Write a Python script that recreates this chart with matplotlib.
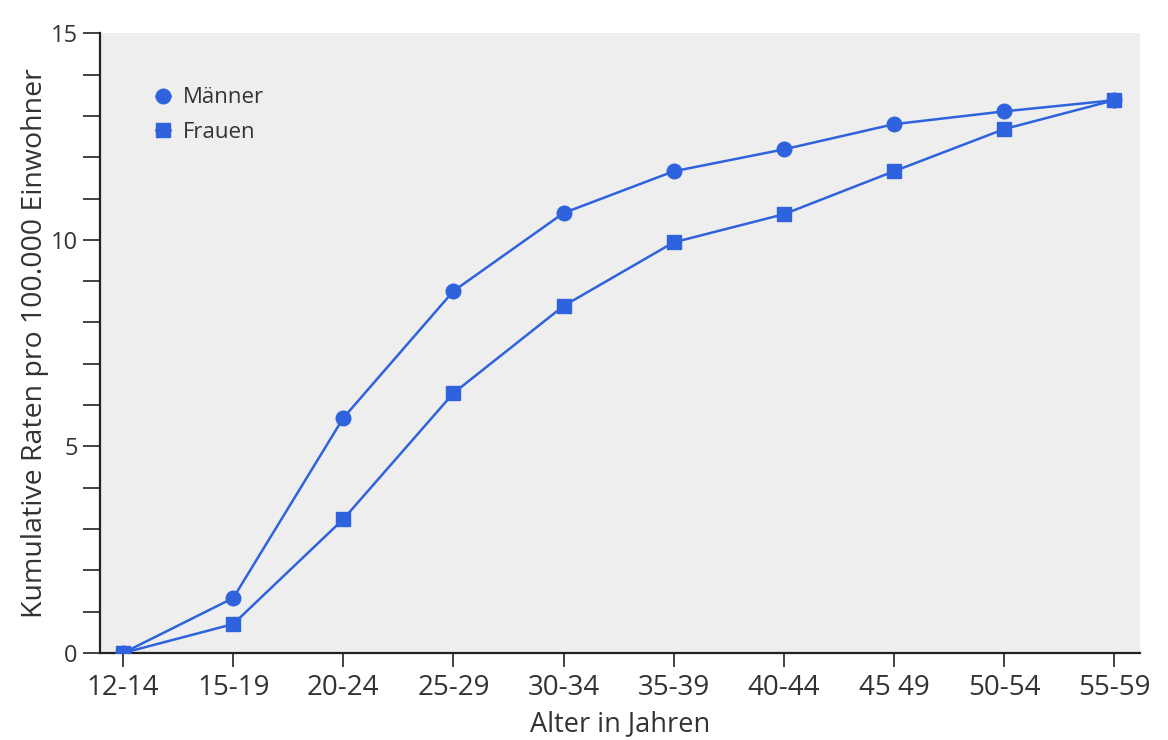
import matplotlib

matplotlib.use('agg')
import matplotlib.pyplot as plt
from matplotlib.ticker import MultipleLocator

# age groups and cumulative rates per 100.000
age_groups = ['12-14', '15-19', '20-24', '25-29', '30-34',
              '35-39', '40-44', '45 49', '50-54', '55-59']
maenner = [0.0, 1.33, 5.69, 8.76, 10.65, 11.66, 12.19, 12.8, 13.11, 13.38]
frauen = [0.0, 0.70, 3.24, 6.29, 8.40, 9.94, 10.62, 11.66, 12.68, 13.38]

blue = '#2f62dd'
txt = '#333333'

plt.rcParams['font.family'] = ['Open Sans', 'DejaVu Sans']

fig = plt.figure(figsize=(11.68, 7.40), dpi=100)
ax = fig.add_axes([0.0856, 0.1176, 0.890, 0.8374])
ax.set_facecolor('#eeeeee')

x = list(range(len(age_groups)))
ax.plot(x, maenner, color=blue, lw=1.8, marker='o', ms=10.5,
        label='Männer', zorder=3)
ax.plot(x, frauen, color=blue, lw=1.8, marker='s', ms=10,
        label='Frauen', zorder=3)

ax.set_xlim(-0.21, 9.23)
ax.set_ylim(0, 15)
ax.set_xticks(x)
ax.set_xticklabels(age_groups)
ax.yaxis.set_major_locator(MultipleLocator(5))
ax.yaxis.set_minor_locator(MultipleLocator(1))

for s in ['top', 'right']:
    ax.spines[s].set_visible(False)
for s in ['left', 'bottom']:
    ax.spines[s].set_linewidth(1.6)
    ax.spines[s].set_color('#222222')

ax.tick_params(axis='x', which='major', labelsize=20, colors='#222222',
               labelcolor=txt, length=10, width=1.2, pad=5)
ax.tick_params(axis='y', which='major', labelsize=17, colors='#222222',
               labelcolor=txt, length=12, width=1.2, pad=4)
ax.tick_params(axis='y', which='minor', length=12, width=1.2, colors='#222222')

ax.set_xlabel('Alter in Jahren', fontsize=19.5, color=txt, labelpad=6)
ax.set_ylabel('Kumulative Raten pro 100.000 Einwohner', fontsize=20.5,
              color=txt)
ax.yaxis.set_label_coords(-0.049, 0.5)

ax.legend(loc='upper left', bbox_to_anchor=(0.035, 0.945), frameon=False,
          fontsize=16, handlelength=0.6, handletextpad=0.6, labelspacing=0.6,
          labelcolor=txt)

fig.savefig('out.png', dpi=100)
